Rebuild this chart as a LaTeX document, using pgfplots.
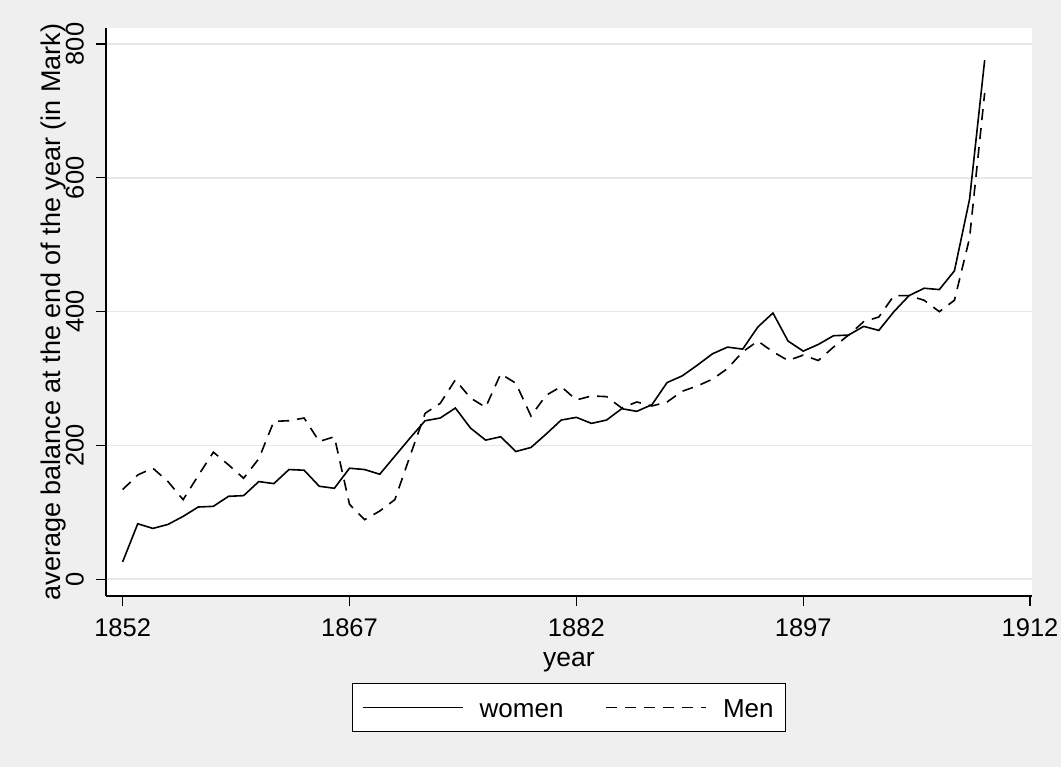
\documentclass[border=0pt]{standalone}
\usepackage{fontspec}
\setmainfont{Liberation Sans}
\usepackage{pgfplots}
\usepackage{pgfplotstable}
\pgfplotsset{compat=1.18}
\definecolor{bgc}{RGB}{239,239,239}
\definecolor{gridc}{RGB}{232,232,232}

\pgfplotstableread{
year women men
1852 26 134
1853 83 156
1854 76 166
1855 82 146
1856 94 119
1857 108 155
1858 109 190
1859 124 171
1860 125 151
1861 146 180
1862 143 236
1863 164 237
1864 163 241
1865 139 206
1866 136 213
1867 166 112
1868 164 89
1869 157 102
1870 184 119
1871 211 184
1872 237 248
1873 241 263
1874 256 298
1875 226 271
1876 208 257
1877 213 307
1878 191 293
1879 197 244
1880 217 275
1881 238 288
1882 242 268
1883 233 274
1884 238 273
1885 255 256
1886 251 265
1887 261 259
1888 294 265
1889 304 281
1890 320 289
1891 337 299
1892 347 315
1893 344 340
1894 377 356
1895 398 340
1896 356 327
1897 341 335
1898 351 327
1899 364 347
1900 365 365
1901 378 385
1902 372 392
1903 400 424
1904 424 424
1905 435 417
1906 433 400
1907 461 417
1908 568 510
1909 776 727
}\datatable

\begin{document}
\begin{tikzpicture}[x=1bp,y=1bp]
\fill[bgc] (0,0) rectangle (1061,767);
\useasboundingbox (0,0) rectangle (1061,767);
\begin{axis}[
  at={(106bp,171bp)}, anchor=south west,
  scale only axis, width=925.7bp, height=568bp,
  xmin=1850.9, xmax=1912.11, ymin=-25, ymax=824,
  axis x line*=bottom, axis y line*=left,
  axis line style={-, line width=1.2bp, black},
  axis background/.style={fill=white},
  xtick={1852,1867,1882,1897,1912},
  ytick={0,200,400,600,800},
  tick align=outside, major tick length=10bp,
  tick style={black, line width=1.2bp},
  ymajorgrids, grid style={gridc, line width=1.6bp},
  /pgf/number format/assume math mode=true,
  /pgf/number format/1000 sep={},
  tick label style={font=\fontsize{25.5bp}{30bp}\selectfont},
  xticklabel style={inner sep=0bp, anchor=north, yshift=-12bp},
  yticklabel style={rotate=90, anchor=south, inner sep=12bp},
  every axis x label/.style={at={(axis description cs:0.5,0)}, anchor=base, yshift=-70.7bp, font=\fontsize{26.5bp}{31bp}\selectfont},
  every axis y label/.style={at={(axis description cs:-0.0495,0.5)}, rotate=90, anchor=base, font=\fontsize{27bp}{32bp}\selectfont},
  xlabel={year},
  ylabel={average balance at the end of the year (in Mark)},
  legend columns=2,
  legend style={at={(axis description cs:0.5,0)}, anchor=north, yshift=-87bp,
    draw=black, line width=1bp, fill=white,
    font=\fontsize{26bp}{31bp}\selectfont,
    inner xsep=10bp, inner ysep=10.5bp,
    /tikz/every odd column/.append style={column sep=14bp},
    /tikz/every even column/.append style={column sep=40bp}},
  legend image code/.code={\draw[#1, line width=1.6bp] (0bp,0bp) -- (100bp,0bp);},
]
\addplot[black, line width=1.6bp, no marks] table[x=year, y=women] {\datatable};
\addlegendentry{\strut women}
\addplot[black, line width=1.6bp, no marks, dash pattern=on 11bp off 8bp] table[x=year, y=men] {\datatable};
\addlegendentry{\strut Men}
\end{axis}
\end{tikzpicture}
\end{document}
